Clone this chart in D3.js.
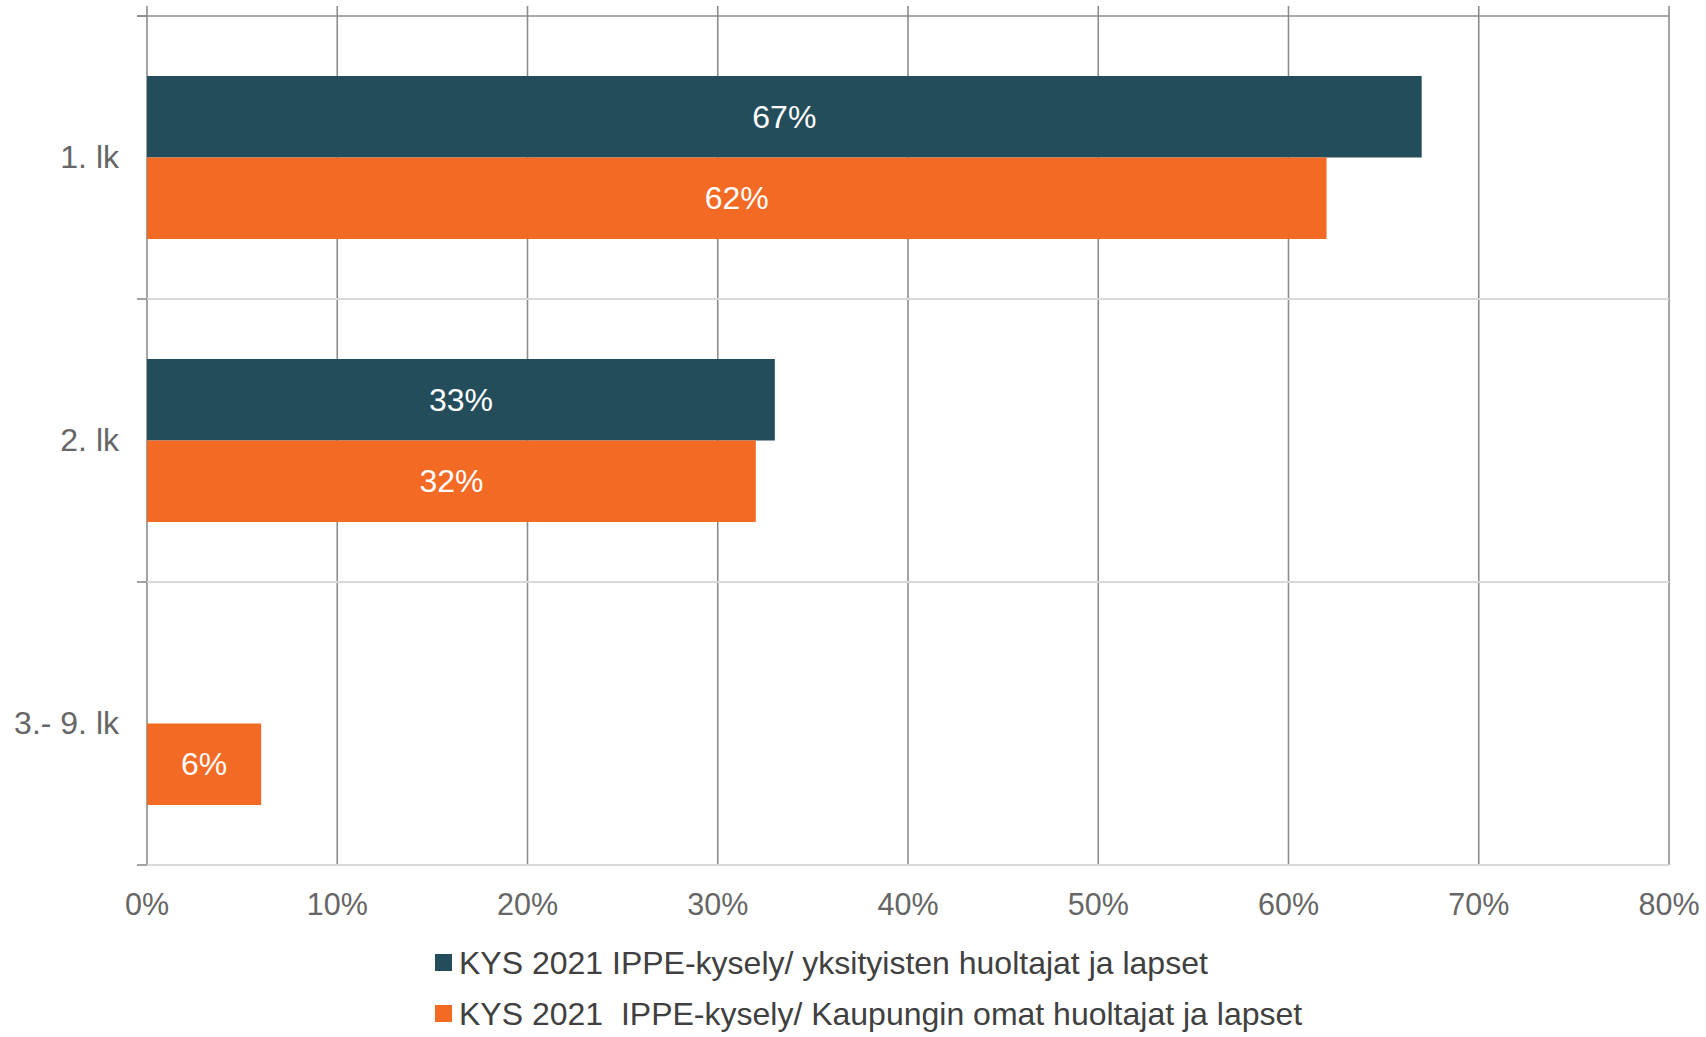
<!DOCTYPE html>
<html><head><meta charset="utf-8">
<script src="https://cdn.jsdelivr.net/npm/d3@7"></script>
<style>
html,body{margin:0;padding:0;background:#fff;}
svg{display:block;font-family:"Liberation Sans",Arial,sans-serif;}
</style></head>
<body>
<svg id="chart" width="1706" height="1037"></svg>
<script>
const categories = ["1. lk", "2. lk", "3.- 9. lk"];
const seriesNames = [
  "KYS 2021 IPPE-kysely/ yksityisten huoltajat ja lapset",
  "KYS 2021  IPPE-kysely/ Kaupungin omat huoltajat ja lapset"
];
const seriesPrivate = [0.67, 0.33, null];
const seriesCity = [0.62, 0.32, 0.06];
const xTicks = [0, 0.1, 0.2, 0.3, 0.4, 0.5, 0.6, 0.7, 0.8];
const colors = ["#234d5b", "#f26a24"];

const svg = d3.select("#chart");
const x = d3.scaleLinear().domain([0, 0.8]).range([147, 1669]);
const y0 = d3.scaleBand().domain(categories).range([16, 865]).paddingInner(0.424).paddingOuter(0.212);
const y1 = d3.scaleBand().domain([0, 1]).range([0, y0.bandwidth()]);
const step = y0.step();
const fmt = d3.format(".0%");

// vertical gridlines
svg.append("g").selectAll("line").data(xTicks).join("line")
  .attr("x1", d => x(d)).attr("x2", d => x(d))
  .attr("y1", 6).attr("y2", 865)
  .attr("stroke", "#8c8c8c").attr("stroke-width", 1.6);

// category separators (light)
const bounds = d3.range(categories.length + 1).map(i => 16 + i * step);
svg.append("g").selectAll("line").data(bounds.slice(1)).join("line")
  .attr("x1", 147).attr("x2", 1669)
  .attr("y1", d => d).attr("y2", d => d)
  .attr("stroke", "#d9d9d9").attr("stroke-width", 2);

// top axis line (dark)
svg.append("line").attr("x1", 137).attr("x2", 1669).attr("y1", 16).attr("y2", 16)
  .attr("stroke", "#8c8c8c").attr("stroke-width", 1.6);

// left ticks
svg.append("g").selectAll("line").data(bounds).join("line")
  .attr("x1", 137).attr("x2", 147)
  .attr("y1", d => d).attr("y2", d => d)
  .attr("stroke", "#8c8c8c").attr("stroke-width", 1.6);

// bars
const data = [];
categories.forEach((c, i) => {
  [seriesPrivate[i], seriesCity[i]].forEach((v, s) => {
    if (v != null) data.push({ c, s, v });
  });
});
svg.append("g").selectAll("rect").data(data).join("rect")
  .attr("x", x(0))
  .attr("y", d => y0(d.c) + y1(d.s))
  .attr("width", d => x(d.v) - x(0))
  .attr("height", y1.bandwidth())
  .attr("fill", d => colors[d.s]);

// data labels
svg.append("g").selectAll("text").data(data).join("text")
  .attr("x", d => (x(0) + x(d.v)) / 2)
  .attr("y", d => y0(d.c) + y1(d.s) + y1.bandwidth() / 2 + 11)
  .attr("text-anchor", "middle")
  .attr("fill", "#ffffff")
  .attr("font-size", 32)
  .text(d => fmt(d.v));

// category labels
svg.append("g").selectAll("text").data(categories).join("text")
  .attr("x", 119)
  .attr("y", d => y0(d) + y0.bandwidth() / 2 + 10)
  .attr("text-anchor", "end")
  .attr("fill", "#666666")
  .attr("font-size", 32)
  .text(d => d);

// x tick labels
svg.append("g").selectAll("text").data(xTicks).join("text")
  .attr("x", d => x(d))
  .attr("y", 915)
  .attr("text-anchor", "middle")
  .attr("fill", "#666666")
  .attr("font-size", 30.5)
  .text(d => fmt(d));

// legend
const lg = svg.append("g").selectAll("g").data(seriesNames).join("g")
  .attr("transform", (d, i) => `translate(0, ${i * 51})`);
lg.append("rect").attr("x", 435).attr("y", 954).attr("width", 17).attr("height", 17)
  .attr("fill", (d, i) => colors[i]);
lg.append("text").attr("x", 459).attr("y", 974)
  .attr("fill", "#404040").attr("font-size", 32)
  .style("white-space", "pre")
  .text(d => d);
</script>
</body></html>
